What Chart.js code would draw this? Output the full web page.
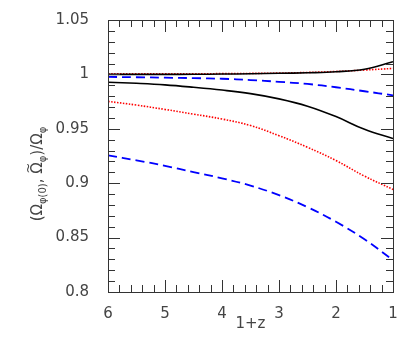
<!DOCTYPE html>
<html>
<head>
<meta charset="utf-8">
<script src="https://cdn.jsdelivr.net/npm/chart.js@4/dist/chart.umd.min.js"></script>
<style>
html,body{margin:0;padding:0;background:#fff;}
#wrap{width:415px;height:339px;}
</style>
</head>
<body>
<div id="wrap"><canvas id="c" width="415" height="339"></canvas></div>
<script>
// 1+z sample points
const zGrid = [6, 5.5, 5, 4.5, 4, 3.5, 3, 2.5, 2, 1.5, 1];
// series values
const blackUpper = [1.0000, 1.0000, 1.0000, 1.0001, 1.0003, 1.0006, 1.0010, 1.0015, 1.0024, 1.0048, 1.0117];
const redUpper   = [1.0005, 1.0005, 1.0005, 1.0006, 1.0007, 1.0009, 1.0012, 1.0018, 1.0027, 1.0040, 1.0055];
const blueUpper  = [0.9977, 0.9974, 0.9970, 0.9966, 0.9960, 0.9948, 0.9932, 0.9912, 0.9882, 0.9845, 0.9808];
const blackMid   = [0.9928, 0.9918, 0.9904, 0.9882, 0.9856, 0.9823, 0.9775, 0.9708, 0.9612, 0.9495, 0.9410];
const redMid     = [0.9752, 0.9718, 0.9678, 0.9635, 0.9590, 0.9530, 0.9437, 0.9330, 0.9208, 0.9065, 0.8943];
const blueLower  = [0.9256, 0.9210, 0.9160, 0.9102, 0.9045, 0.8978, 0.8890, 0.8780, 0.8645, 0.8485, 0.8292];
// axis ranges / tick labels
const xMin = 1, xMax = 6;
const yMin = 0.8, yMax = 1.05;
const xTickLabels = ['1', '2', '3', '4', '5', '6'];
const yTickLabels = ['0.8', '0.85', '0.9', '0.95', '1', '1.05'];

function pts(arr){ return zGrid.map((z,i)=>({x:z, y:arr[i]})); }

const FONT = 'DejaVu Sans';
const TXT = '#444';

const series = [
  {data: blackUpper, color:'#000', dash:[], w:1.6},
  {data: redUpper,   color:'#f00', dash:[1.5,1.5], w:1.6},
  {data: blueUpper,  color:'#00f', dash:[9,5], w:1.8},
  {data: blackMid,   color:'#000', dash:[], w:1.6},
  {data: redMid,     color:'#f00', dash:[1.5,1.5], w:1.6},
  {data: blueLower,  color:'#00f', dash:[9,5], w:1.8}
];

const decor = {
  id:'decor',
  afterDraw(chart){
    const ctx = chart.ctx, a = chart.chartArea;
    const xs = chart.scales.x, ys = chart.scales.y;
    ctx.save();
    ctx.strokeStyle = '#333';
    ctx.lineWidth = 1;
    ctx.strokeRect(Math.round(a.left)+0.5, Math.round(a.top)+0.5, Math.round(a.right-a.left), Math.round(a.bottom-a.top));
    // y ticks (inward, both sides)
    for (let k=0;k<=25;k++){
      const v = yMin + k*0.01;
      const py = Math.round(ys.getPixelForValue(v))+0.5;
      const len = (k%5===0)?12:7;
      ctx.beginPath();
      ctx.moveTo(a.left, py); ctx.lineTo(a.left+len, py);
      ctx.moveTo(a.right, py); ctx.lineTo(a.right-len, py);
      ctx.stroke();
    }
    // x ticks (inward, top and bottom)
    for (let k=0;k<=25;k++){
      const v = xMin + k*0.2;
      const px = Math.round(xs.getPixelForValue(v))+0.5;
      const len = (k%5===0)?12:7;
      ctx.beginPath();
      ctx.moveTo(px, a.bottom); ctx.lineTo(px, a.bottom-len);
      ctx.moveTo(px, a.top); ctx.lineTo(px, a.top+len);
      ctx.stroke();
    }
    // x title
    ctx.fillStyle = TXT;
    ctx.font = '15px "'+FONT+'"';
    ctx.textAlign = 'center';
    ctx.textBaseline = 'alphabetic';
    ctx.fillText('1+z', (a.left+a.right)/2, 328);
    // y title with subscripts
    const parts = [
      {t:'(Ω', s:false},
      {t:'φ(0)', s:true},
      {t:', ', s:false},
      {t:'Ω', s:false, tilde:true},
      {t:'φ', s:true},
      {t:')/Ω', s:false},
      {t:'φ', s:true}
    ];
    const fMain = '15px "'+FONT+'"', fSub = '10px "'+FONT+'"';
    let total = 0;
    parts.forEach(p=>{ ctx.font = p.s?fSub:fMain; p.w = ctx.measureText(p.t).width; total += p.w; });
    ctx.translate(42, 174);
    ctx.rotate(-Math.PI/2);
    ctx.textAlign = 'left';
    let cx = -total/2;
    parts.forEach(p=>{
      ctx.font = p.s?fSub:fMain;
      ctx.fillText(p.t, cx, p.s?4:0);
      if (p.tilde){
        ctx.font = '13px "'+FONT+'"';
        ctx.textAlign = 'center';
        ctx.fillText('~', cx + p.w/2, -10);
        ctx.textAlign = 'left';
      }
      cx += p.w;
    });
    ctx.restore();
  }
};

function fmt(v){ return parseFloat(v.toFixed(2)).toString(); }

new Chart(document.getElementById('c'), {
  type:'line',
  data:{
    datasets: series.map(s=>({
      data: pts(s.data),
      borderColor: s.color,
      borderWidth: s.w,
      borderDash: s.dash,
      pointRadius: 0,
      fill:false,
      tension: 0.4
    }))
  },
  options:{
    responsive:false,
    animation:false,
    layout:{padding:{left:0,right:22,top:18,bottom:0}},
    plugins:{legend:{display:false}, tooltip:{enabled:false}},
    scales:{
      x:{
        type:'linear', reverse:true, min:xMin, max:xMax,
        grid:{display:false}, border:{display:false},
        afterFit(s){ s.height = 47; },
        afterBuildTicks(s){ s.ticks = xTickLabels.map(t=>({value:parseFloat(t)})); },
        ticks:{ padding:5, color:TXT, font:{family:FONT, size:15}, autoSkip:false, maxRotation:0,
          callback:(v)=>fmt(v) }
      },
      y:{
        type:'linear', min:yMin, max:yMax,
        grid:{display:false}, border:{display:false},
        afterFit(s){ s.width = 108; },
        afterBuildTicks(s){ s.ticks = yTickLabels.map(t=>({value:parseFloat(t)})); },
        ticks:{ padding:11, color:TXT, font:{family:FONT, size:15}, autoSkip:false,
          callback:(v)=>fmt(v) }
      }
    }
  },
  plugins:[decor]
});
</script>
</body>
</html>
